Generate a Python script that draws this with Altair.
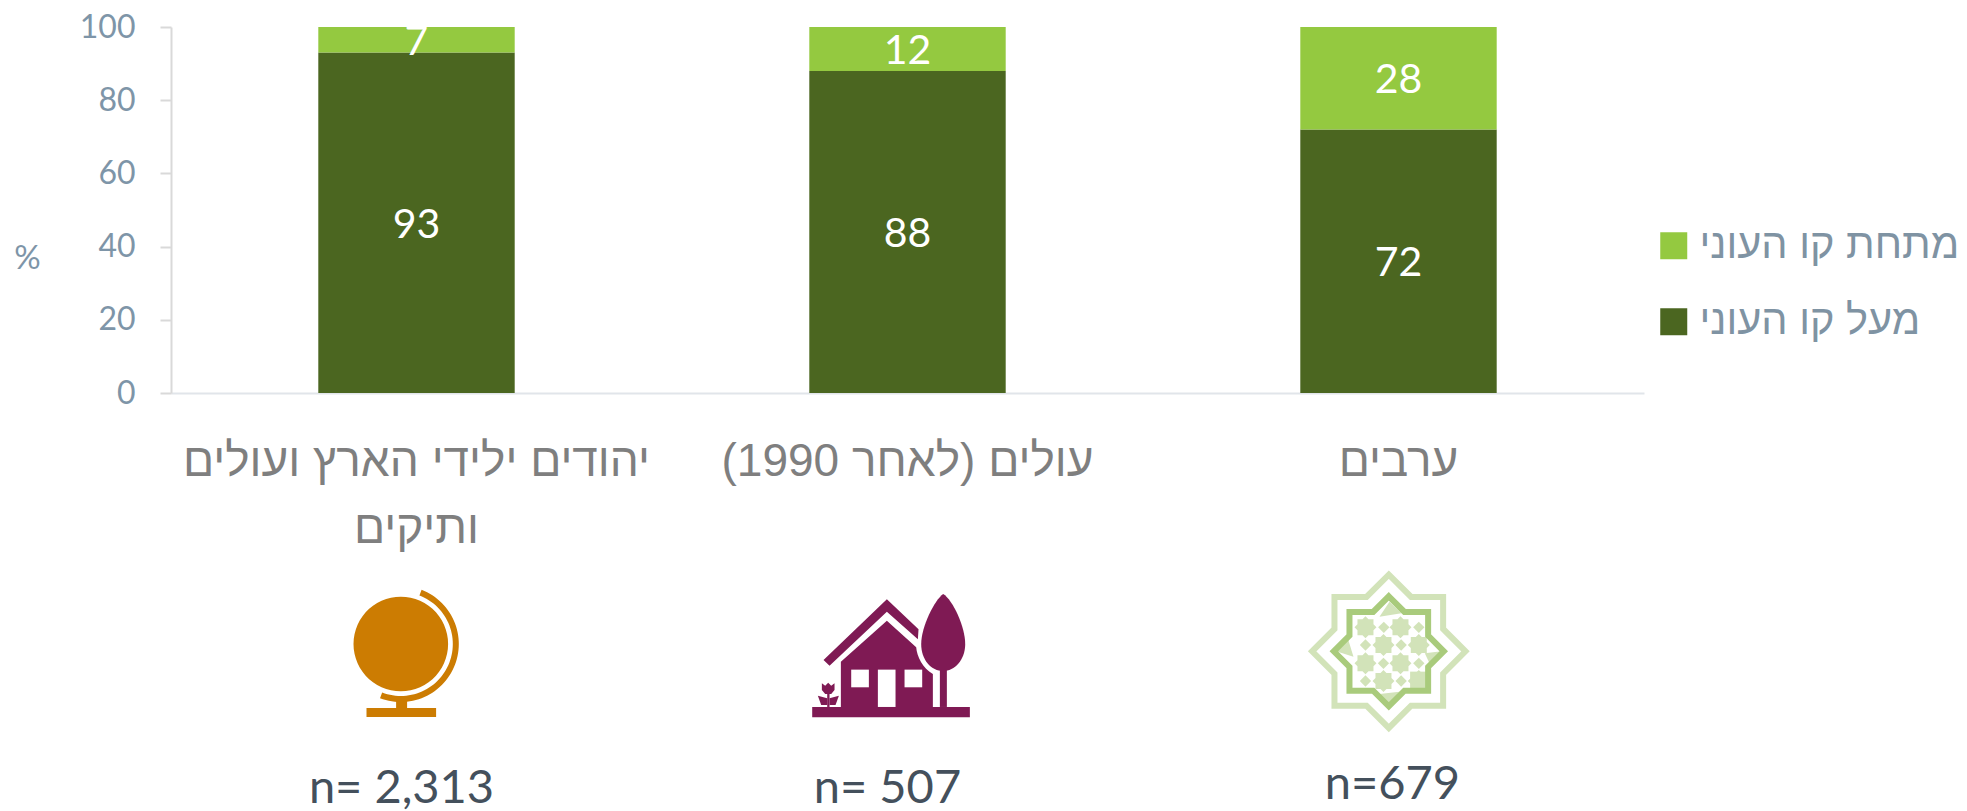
import math
import altair as alt
import pandas as pd

categories = ["יהודים ילידי הארץ ועולים\nותיקים", "\u200fעולים (לאחר 1990)\u200f", "ערבים"]
above = [93, 88, 72]
below = [7, 12, 28]
above_name = "מעל קו העוני"
below_name = "מתחת קו העוני"
sample_labels = ["n= 2,313", "n= 507", "n=679"]
y_ticks = [0, 20, 40, 60, 80, 100]

rows = []
for c, a, b in zip(categories, above, below):
    rows.append({"cat": c, "series": above_name, "value": a, "ord": 0})
    rows.append({"cat": c, "series": below_name, "value": b, "ord": 1})
df = pd.DataFrame(rows)

W, H = 1473, 366
HEB = "Liberation Sans"
NUM = "Lato"
TICK = "#7E95A8"

x_enc = alt.X("cat:N", sort=categories, scale=alt.Scale(paddingInner=0.6, paddingOuter=0.3),
              axis=alt.Axis(title=None, labelExpr="split(datum.label, '\\n')", labelAngle=0,
                            labelFont=HEB, labelFontSize=46, labelColor="#7F7F7F", labelLineHeight=67,
                            labelPadding=46, labelLimit=700, ticks=False, domainColor="#E1E5EA",
                            domainWidth=2, labelBaseline="top"))
y_enc = alt.Y("y0:Q", scale=alt.Scale(domain=[0, 100]),
              axis=alt.Axis(values=y_ticks, grid=False, title="%", titleAngle=0, titleFont=NUM,
                            titleFontSize=33, titleFontWeight="normal", titleColor=TICK, titleX=-144, titleY=248,
                            labelFont=NUM, labelFontSize=32, labelColor=TICK, labelPadding=25,
                            tickSize=11, tickColor="#D9D9D9", tickWidth=2, domainColor="#D9D9D9", domainWidth=2))

stacked = alt.Chart(df).transform_stack(stack="value", groupby=["cat"], sort=[alt.SortField("ord")], as_=["y0", "y1"])

bars = stacked.mark_bar().encode(
    x=x_enc, y=y_enc, y2="y1:Q",
    color=alt.Color("series:N", scale=alt.Scale(domain=[below_name, above_name], range=["#94C940", "#4B6620"]),
                    legend=alt.Legend(title=None, orient="none", legendX=1482, legendY=198, symbolType="square",
                                      symbolSize=729, symbolStrokeWidth=0, symbolOpacity=1, labelFont=HEB, labelFontSize=41.5,
                                      labelColor="#7F93A3", rowPadding=33, labelOffset=5, labelLimit=400)),
)
values = stacked.transform_calculate(mid="(datum.y0 + datum.y1) / 2").mark_text(
    font=NUM, fontSize=41, color="white", clip=False, dy=3
).encode(x=alt.X("cat:N", sort=categories), y=alt.Y("mid:Q"), text="value:Q")

def poly(pts):
    return "M" + "L".join(f"{x:.2f},{y:.2f}" for x, y in pts) + "Z"

def z(cx, cy, pts):
    return [((x - cx) / 3, (y - cy) / 3) for x, y in pts]

def rect(x0, y0, x1, y1):
    return [(x0, y0), (x1, y0), (x1, y1), (x0, y1)]

def arc(r0, r1, a0, a1):
    n = 60
    out = [(r1 * math.sin(math.radians(a0 + (a1 - a0) * i / n)), -r1 * math.cos(math.radians(a0 + (a1 - a0) * i / n))) for i in range(n + 1)]
    inn = [(r0 * math.sin(math.radians(a1 - (a1 - a0) * i / n)), -r0 * math.cos(math.radians(a1 - (a1 - a0) * i / n))) for i in range(n + 1)]
    return out + inn

def star(cx, cy, T, S):
    pts = [(0, -T), (T - S, -S), (S, -S), (S, -(T - S)), (T, 0), (S, T - S), (S, S), (T - S, S),
           (0, T), (-(T - S), S), (-S, S), (-S, T - S), (-T, 0), (-S, -(T - S)), (-S, -S), (-(T - S), -S)]
    return [(cx + x, cy + y) for x, y in pts]

# icon artwork: (path, fill, stroke) pieces, 1 unit = 1 pixel at size=4
GLOBE = "#CC7C02"
globe = [
    (poly(arc(0, 47.3, 0, 360)), GLOBE, None),
    (poly(arc(52, 58, 21, 201)), GLOBE, None),
    (poly(rect(-4.7, 56, 6.3, 65)), GLOBE, None),
    (poly(rect(-34.3, 64, 35.3, 73)), GLOBE, None),
]

PLUM = "#7F1A54"
hx, hy = 305, 265
def hp(pts):
    return poly(z(hx, hy, pts))
def hsc(x, y):
    return f"{(x - hx) / 3:.2f},{(y - hy) / 3:.2f}"
tree = ("M" + hsc(461, 72) + "C" + hsc(490, 90) + " " + hsc(527, 170) + " " + hsc(527, 222)
        + "C" + hsc(527, 270) + " " + hsc(495, 303) + " " + hsc(461, 303)
        + "C" + hsc(425, 303) + " " + hsc(395, 270) + " " + hsc(395, 222)
        + "C" + hsc(395, 170) + " " + hsc(435, 90) + " " + hsc(461, 72) + "Z")
body = ("M" + hsc(292, 152) + "L" + hsc(380, 232) + "C" + hsc(382, 260) + " " + hsc(400, 295) + " " + hsc(430, 312)
        + "L" + hsc(430, 411) + "L" + hsc(154, 411) + "L" + hsc(154, 275) + "Z")
house = [
    (hp(rect(68, 411, 541, 442)), PLUM, None),
    (hp([(292, 88), (387, 178), (385, 208), (292, 125), (120, 287), (102, 270)]), PLUM, None),
    (body, PLUM, None),
    (hp(rect(185, 299, 238, 352)), "white", None),
    (hp(rect(265, 299, 318, 411)), "white", None),
    (hp(rect(345, 299, 398, 352)), "white", None),
    (tree, PLUM, None),
    (hp(rect(451, 300, 472, 411)), PLUM, None),
    (hp(rect(113, 370, 120, 411)), PLUM, None),
    (hp([(97, 340), (107, 347), (116, 338), (125, 347), (135, 340), (135, 360), (125, 372), (107, 372), (97, 360)]), PLUM, None),
    (hp([(85, 377), (113, 385), (113, 405), (95, 405)]), PLUM, None),
    (hp([(148, 377), (120, 385), (120, 405), (138, 405)]), PLUM, None),
]

PALE = "#D2E3B9"
MID = "#A9CB7C"
sx, sy = 328, 304
def sp(pts):
    return poly(z(sx, sy, pts))
ornament = []
for px, py in [(258, 232), (363, 232), (312, 285), (418, 285), (258, 340), (363, 340), (312, 393), (418, 393)]:
    ornament.append((sp(star(px, py, 33, 24)), PALE, None))
for px, py in [(313, 232), (418, 232), (258, 285), (365, 285), (312, 340), (418, 340), (258, 393), (365, 393)]:
    ornament.append((sp([(px, py - 17), (px + 17, py), (px, py + 17), (px - 17, py)]), PALE, None))
ornament += [
    (sp([(330, 155), (366, 190), (300, 200)]), PALE, None),
    (sp([(170, 304), (206, 268), (222, 320)]), PALE, None),
    (sp([(486, 304), (450, 340), (436, 310)]), PALE, None),
    (sp([(328, 462), (300, 432), (360, 425)]), PALE, None),
    (sp(rect(392, 365, 445, 418)), PALE, None),
]
islamic = [
    (sp(star(0 + sx, 0 + sy, 230, 163)), None, (PALE, 6)),
] + ornament + [
    (sp(star(0 + sx, 0 + sy, 165, 118)), None, (MID, 6)),
]

def icon_layers(cat, pieces, dx, py):
    out = []
    one = pd.DataFrame({"cat": [cat]})
    for path, fill, stroke in pieces:
        if stroke:
            m = alt.Chart(one).mark_point(shape=path, size=4, filled=False, stroke=stroke[0], strokeWidth=stroke[1],
                                          opacity=1, xOffset=dx, strokeJoin="miter", strokeMiterLimit=10)
        else:
            m = alt.Chart(one).mark_point(shape=path, size=4, filled=True, fill=fill, strokeWidth=0,
                                          opacity=1, xOffset=dx)
        out.append(m.encode(x=alt.X("cat:N", sort=categories), y=alt.value(py)))
    return out

icons = (icon_layers(categories[0], globe, -15.7, 644 - 27)
         + icon_layers(categories[1], house, -16.3, 658.3 - 27)
         + icon_layers(categories[2], islamic, -9.7, 651.3 - 27))

n_layers = []
for cat, lab, dx, py in zip(categories, sample_labels, [-15, -20, -6], [789, 789, 785]):
    n_layers.append(
        alt.Chart(pd.DataFrame({"cat": [cat], "lab": [lab]})).mark_text(
            font=NUM, fontSize=47, color="#44505C", dx=dx, baseline="middle"
        ).encode(x=alt.X("cat:N", sort=categories), y=alt.value(py - 27), text="lab:N")
    )

chart = alt.layer(bars, values, *icons, *n_layers).properties(
    width=W, height=H,
    autosize=alt.AutoSizeParams(type="none"),
    padding={"left": 163, "top": 19, "right": 315, "bottom": 418},
).configure_view(stroke=None)

chart.save("out.html", embed_options={"renderer": "svg", "actions": False})
